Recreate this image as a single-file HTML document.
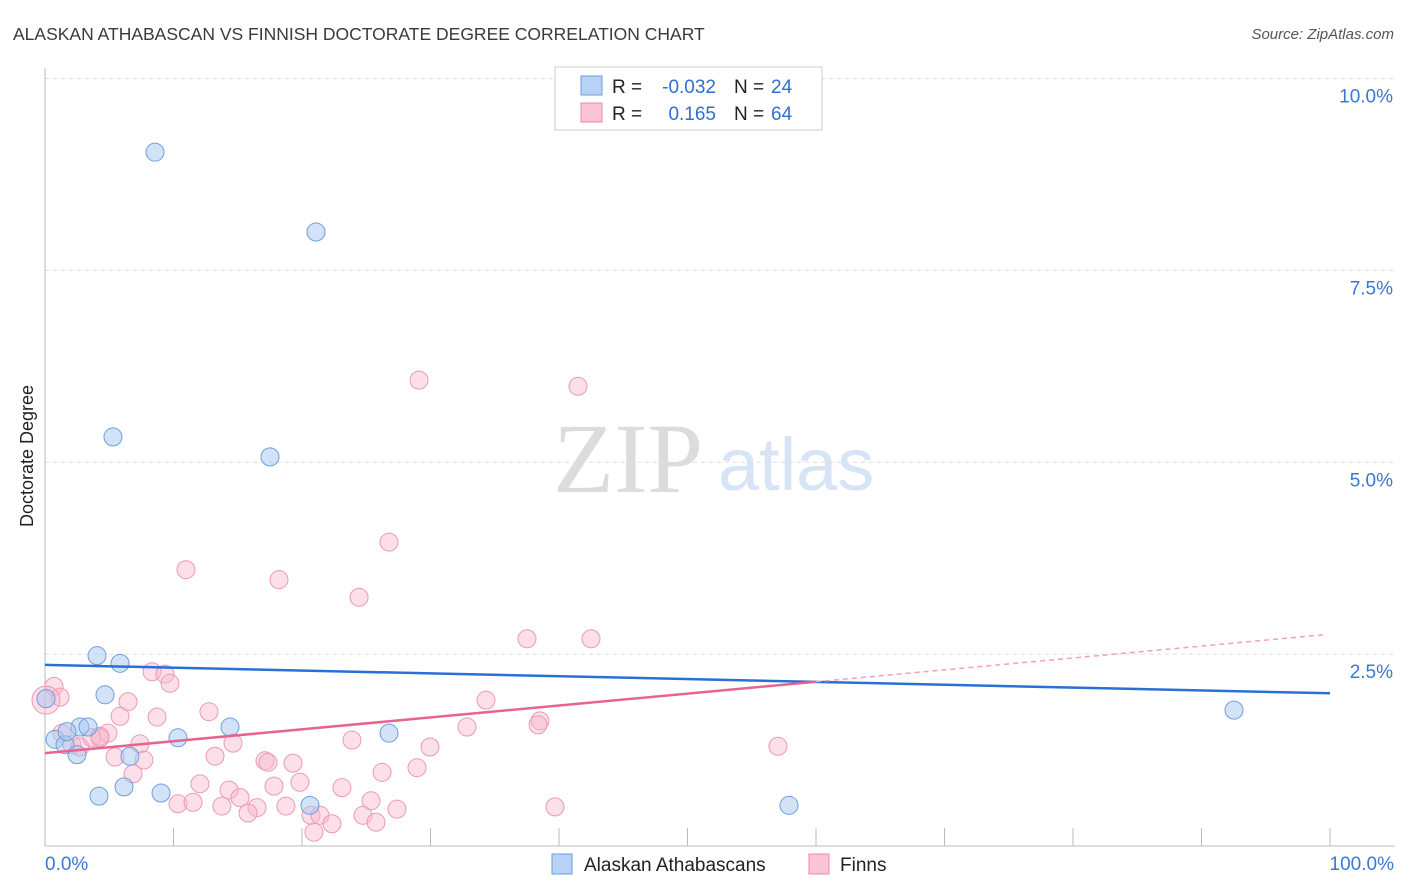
<!DOCTYPE html>
<html><head><meta charset="utf-8"><style>
body{margin:0;background:#fff;font-family:"Liberation Sans",sans-serif;}
#wrap{position:relative;width:1406px;height:892px;overflow:hidden;}
</style></head><body>
<div id="wrap">
<svg id="svg" width="1406" height="892" xmlns="http://www.w3.org/2000/svg">
<text x="13" y="40" font-size="17.5" fill="#3a3a3a">ALASKAN ATHABASCAN VS FINNISH DOCTORATE DEGREE CORRELATION CHART</text>
<text x="1394" y="39" font-size="15" fill="#555" font-style="italic" text-anchor="end">Source: ZipAtlas.com</text>
<text transform="translate(33,456) rotate(-90)" font-size="18" fill="#222" text-anchor="middle">Doctorate Degree</text>
<text x="553" y="492" font-size="100" fill="#dcdcdc" font-family="Liberation Serif,serif">ZIP</text>
<text x="718" y="490" font-size="74" fill="#d6e4f5">atlas</text>
<g id="grid"></g><g id="pts"></g><g id="trend"></g>
<rect x="555" y="67" width="267" height="63" fill="#fff" stroke="#ccc"/>
<rect x="581" y="76" width="21" height="19" fill="#b8d2f5" stroke="#6a9ee0"/>
<rect x="581" y="103" width="21" height="19" fill="#fbc5d5" stroke="#e88aa8"/>
<text x="612" y="93" font-size="19" fill="#222">R =</text>
<text x="716" y="93" font-size="19" fill="#2f6fcf" text-anchor="end">-0.032</text>
<text x="734" y="93" font-size="19" fill="#222">N =</text>
<text x="771" y="93" font-size="19" fill="#2f6fcf">24</text>
<text x="612" y="120" font-size="19" fill="#222">R =</text>
<text x="716" y="120" font-size="19" fill="#2f6fcf" text-anchor="end">0.165</text>
<text x="734" y="120" font-size="19" fill="#222">N =</text>
<text x="771" y="120" font-size="19" fill="#2f6fcf">64</text>
<rect x="552" y="854" width="20" height="20" fill="#b8d2f5" stroke="#6a9ee0"/>
<text x="584" y="871" font-size="19" fill="#222">Alaskan Athabascans</text>
<rect x="809" y="854" width="20" height="20" fill="#fbc5d5" stroke="#e88aa8"/>
<text x="840" y="871" font-size="19" fill="#222">Finns</text>
</svg>
</div>
<script>
const yTicks=[2.5,5,7.5,10];
const yTickLabels=["2.5%","5.0%","7.5%","10.0%"];
const xTickLabels=["0.0%","100.0%"];
const blueX=[8.56,21.09,5.29,17.51,4.05,5.84,4.67,0.08,0.78,1.56,2.49,2.72,3.35,6.61,10.35,14.40,26.77,4.20,6.15,9.03,20.62,57.90,92.53,1.71];
const blueY=[9.04,8.0,5.33,5.07,2.48,2.38,1.97,1.92,1.39,1.32,1.19,1.55,1.55,1.17,1.41,1.55,1.47,0.65,0.77,0.69,0.53,0.53,1.77,1.49];
const pinkX=[29.11,41.48,26.77,10.97,18.21,24.44,37.51,42.49,8.33,9.34,9.73,0.70,1.17,0.08,6.46,5.84,8.72,12.76,34.32,38.52,38.37,32.84,23.89,14.63,29.96,1.32,2.10,2.72,3.66,4.28,4.90,7.39,5.45,7.70,13.23,6.85,17.12,17.35,19.30,17.82,19.84,12.06,14.32,23.11,26.23,28.95,15.18,10.35,11.52,13.77,16.50,15.80,18.75,20.70,21.40,22.33,20.93,24.75,25.37,25.76,27.39,39.69,57.04,4.28];
const pinkY=[6.07,5.99,3.96,3.60,3.47,3.24,2.70,2.70,2.27,2.24,2.12,2.08,1.94,1.90,1.88,1.69,1.68,1.75,1.90,1.63,1.58,1.55,1.38,1.34,1.29,1.47,1.32,1.29,1.41,1.43,1.47,1.33,1.16,1.12,1.17,0.94,1.11,1.09,1.08,0.78,0.83,0.81,0.73,0.76,0.96,1.02,0.63,0.55,0.57,0.52,0.50,0.43,0.52,0.40,0.40,0.29,0.18,0.40,0.59,0.31,0.48,0.51,1.30,1.41];
const blueTrend=[2.36,1.99];
const pinkTrend=[1.21,2.76];
const pinkSolidEnd=60;
const NS="http://www.w3.org/2000/svg";
const X=v=>45+v*12.85, Y=v=>846-v*76.75;
function mk(tag,attrs,parent){const e=document.createElementNS(NS,tag);for(const k in attrs)e.setAttribute(k,attrs[k]);parent.appendChild(e);return e;}
const grid=document.getElementById('grid');
yTicks.forEach((t,i)=>{
  const l=mk('line',{x1:45,x2:1395,y1:Y(t),y2:Y(t),stroke:'#ddd','stroke-dasharray':'4,4'},grid);
  
  
  const tx=mk('text',{x:1393,y:Y(t)+24,'font-size':19,fill:'#3a78d4','text-anchor':'end'},grid);
  tx.textContent=yTickLabels[i];
  
  
});
const ax=mk('line',{x1:45,x2:1395,y1:846,y2:846,stroke:'#bbb'},grid);


const ay=mk('line',{x1:45,x2:45,y1:68,y2:846,stroke:'#bbb'},grid);


for(let k=1;k<=10;k++){
  const t=mk('line',{x1:X(k*10),x2:X(k*10),y1:828,y2:846,stroke:'#bbb'},grid);
  
  
}
const xl0=mk('text',{x:45,y:870,'font-size':19,fill:'#3a78d4'},grid);xl0.textContent=xTickLabels[0];


const xl1=mk('text',{x:1394,y:870,'font-size':19,fill:'#3a78d4','text-anchor':'end'},grid);xl1.textContent=xTickLabels[1];


const pts=document.getElementById('pts');
pinkX.forEach((x,i)=>{
  const c=mk('circle',{cx:X(x),cy:Y(pinkY[i]),r:(i===13?14:9),fill:'rgba(248,185,205,0.45)',stroke:'#eb9ab5','stroke-width':1},pts);
  
  
});
blueX.forEach((x,i)=>{
  const c=mk('circle',{cx:X(x),cy:Y(blueY[i]),r:9,fill:'rgba(165,200,242,0.5)',stroke:'#6e9ee0','stroke-width':1},pts);
  
  
});
const tr=document.getElementById('trend');
const bl=mk('line',{x1:X(0),y1:Y(blueTrend[0]),x2:X(100),y2:Y(blueTrend[1]),stroke:'#2a6fd6','stroke-width':2.5},tr);


const py=x=>pinkTrend[0]+(pinkTrend[1]-pinkTrend[0])*x/100;
const pl=mk('line',{x1:X(0),y1:Y(py(0)),x2:X(pinkSolidEnd),y2:Y(py(pinkSolidEnd)),stroke:'#e8638f','stroke-width':2.5},tr);


const pd=mk('line',{x1:X(pinkSolidEnd),y1:Y(py(pinkSolidEnd)),x2:X(99.6),y2:Y(py(99.6)),stroke:'#f0a0bb','stroke-width':1.5,'stroke-dasharray':'5,4'},tr);


</script>
</body></html>
